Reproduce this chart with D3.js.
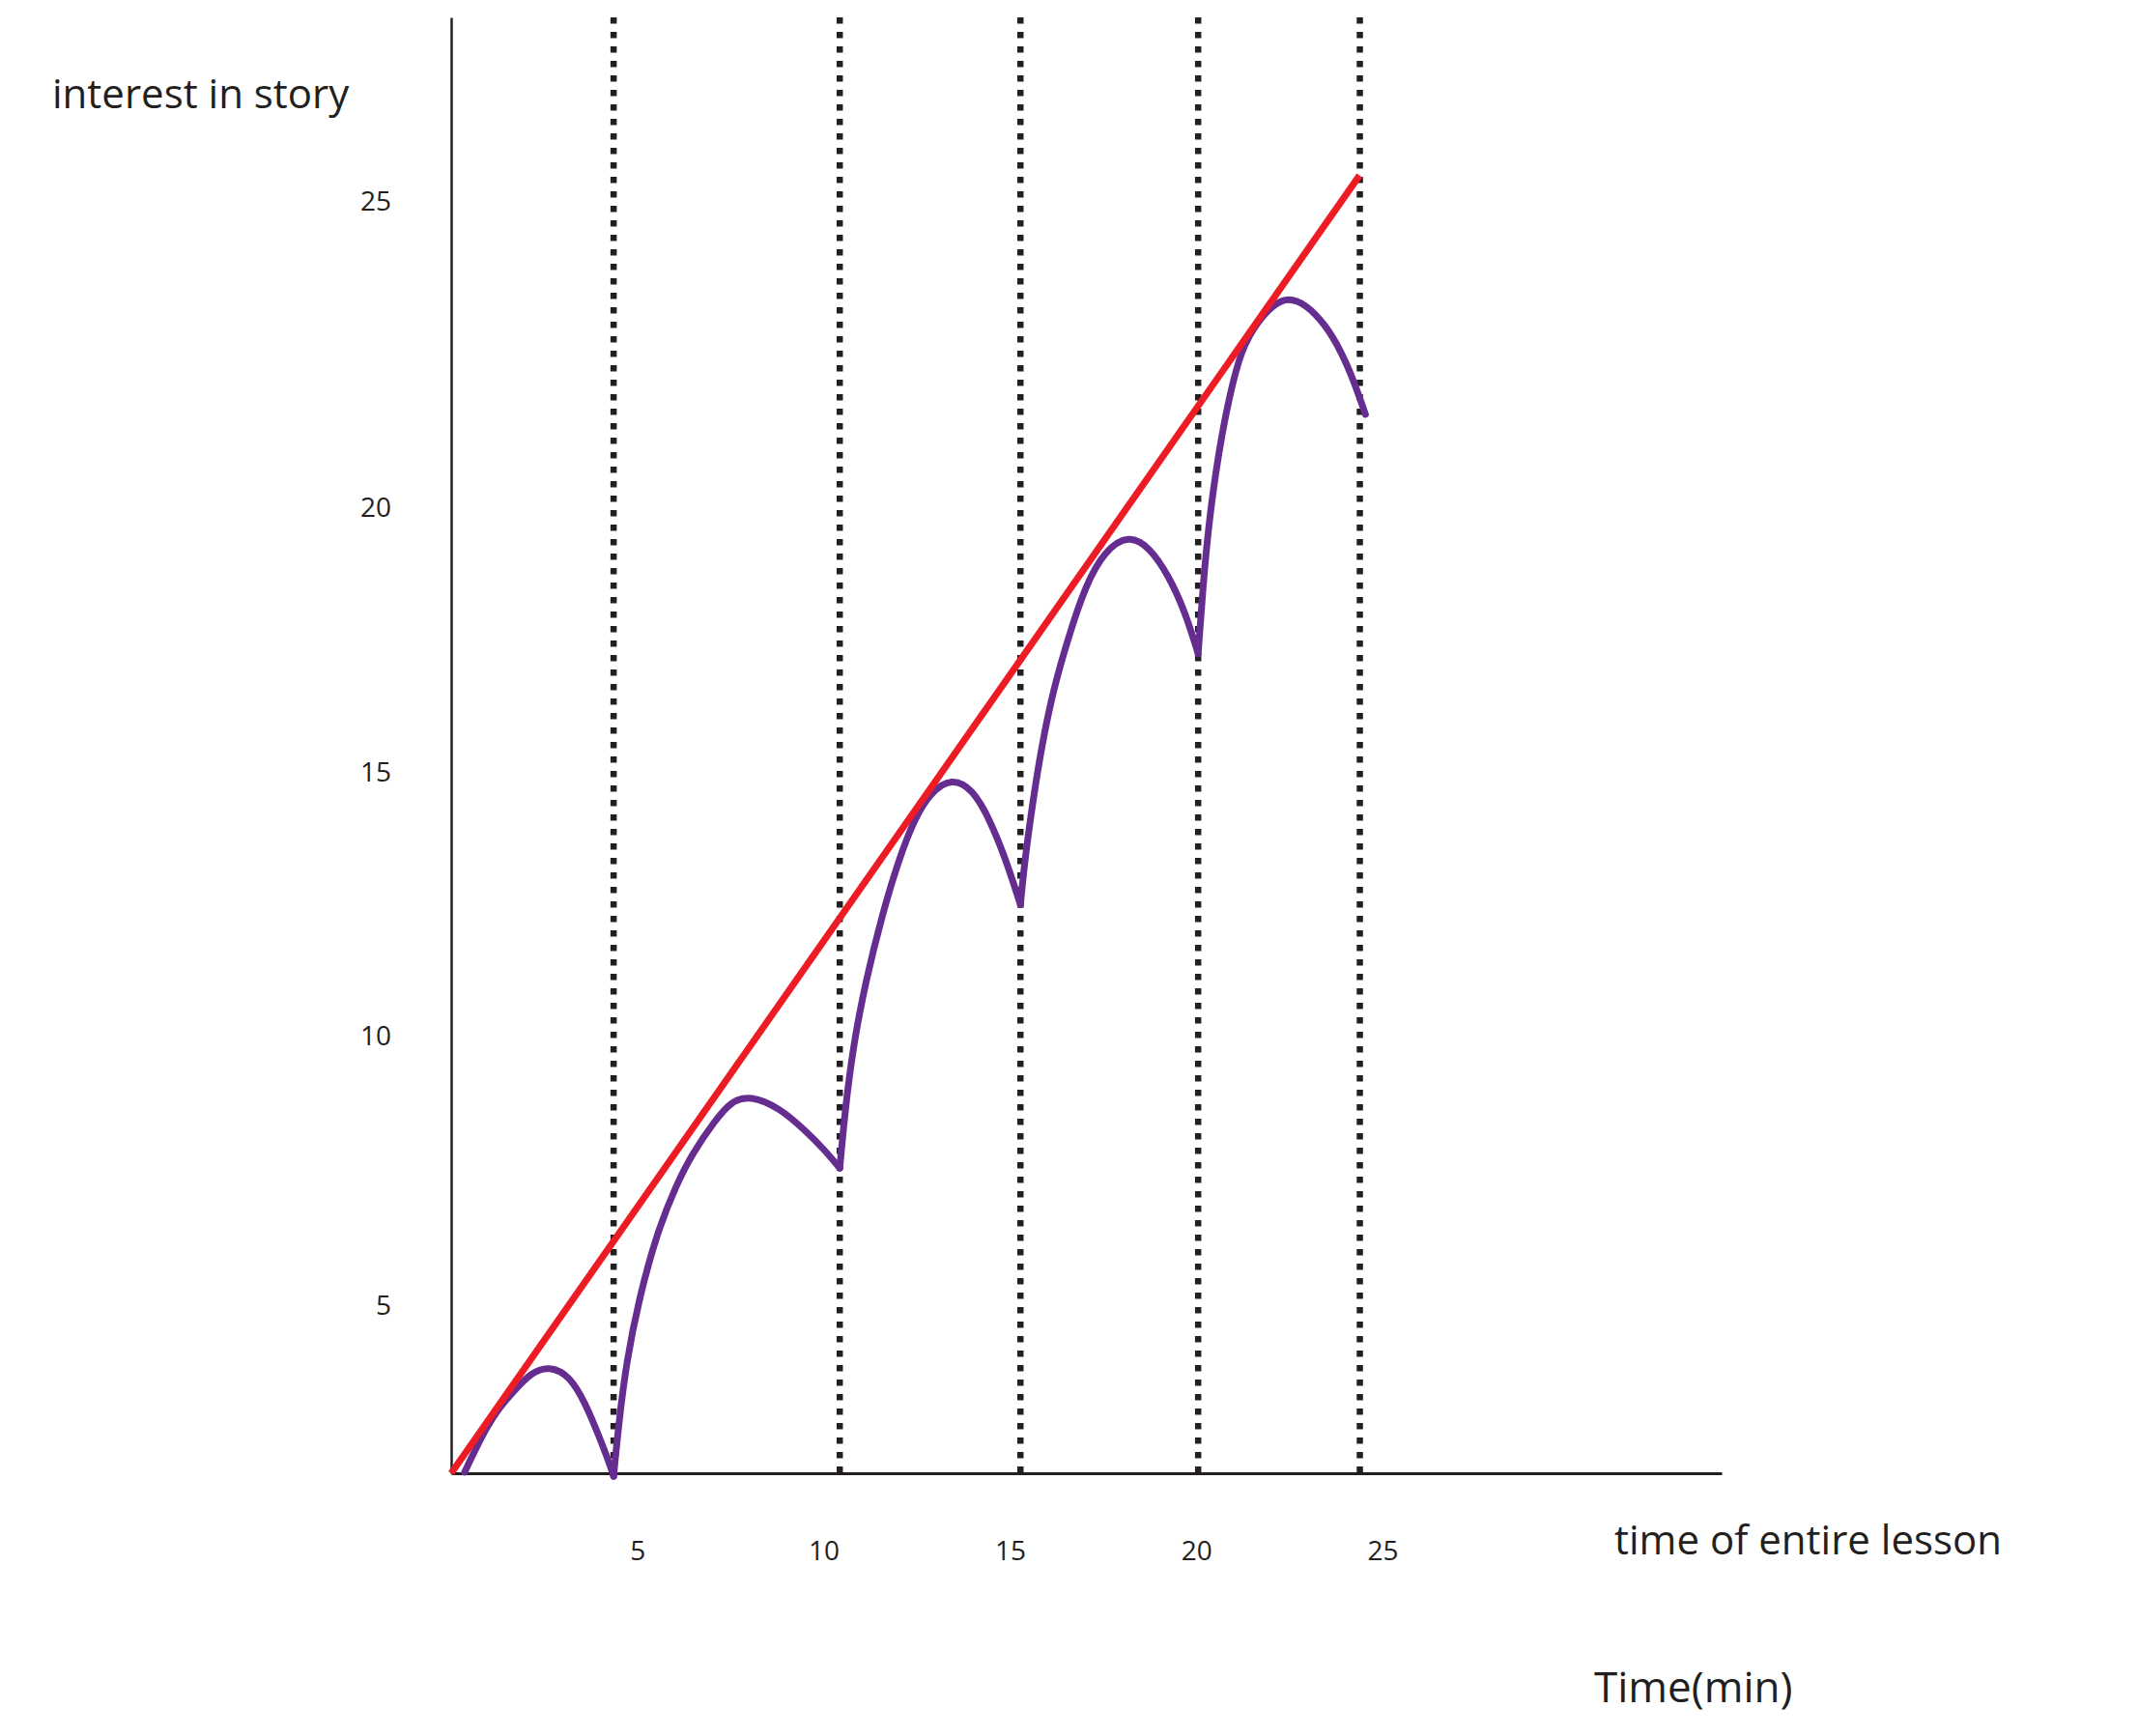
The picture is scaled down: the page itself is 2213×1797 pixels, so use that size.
<!DOCTYPE html>
<html>
<head>
<meta charset="utf-8">
<script src="https://cdn.jsdelivr.net/npm/d3@7"></script>
<style>
  body { margin: 0; background: #fff; }
  text { font-family: "Open Sans", sans-serif; fill: #231f20; }
</style>
</head>
<body>
<script>
(function() {
  var width = 2213, height = 1797;

  // values
  var timeTicks = [5, 10, 15, 20, 25];
  var interestTicks = [5, 10, 15, 20, 25];
  var sectionEnds = [4.36, 10.43, 15.28, 20.05, 24.39];
  var trend = [[0, 0], [24.38, 25.43]];

  var arc1 = [[0.36, 0.03], [0.86, 1.21], [1.29, 1.97], [1.71, 2.49], [2.15, 3.01], [2.62, 3.21],
              [3.19, 2.92], [3.62, 2.05], [3.97, 1.10], [4.23, 0.35], [4.36, -0.09]];
  var arc2 = [[4.36, -0.09], [4.49, 1.40], [4.70, 3.32], [5.05, 5.16], [5.52, 6.35], [6.04, 7.25],
              [6.48, 7.84], [7.08, 8.44], [7.51, 8.80], [8.03, 8.91], [8.81, 8.68], [9.50, 8.26],
              [10.02, 7.90], [10.43, 7.56]];
  var arc3 = [[10.43, 7.56], [10.58, 8.68], [10.80, 9.87], [11.14, 11.09], [11.57, 12.31], [12.01, 13.35],
              [12.44, 14.14], [12.87, 14.63], [13.43, 14.91], [14.00, 14.69], [14.43, 14.15], [14.86, 13.42],
              [15.28, 12.50]];
  var arc4 = [[15.28, 12.50], [15.38, 13.23], [15.55, 14.15], [15.81, 15.36], [16.16, 16.58], [16.59, 17.61],
              [17.02, 18.53], [17.54, 19.20], [18.19, 19.50], [18.75, 19.26], [19.27, 18.71], [19.70, 18.04],
              [20.05, 17.25]];
  var arc5 = [[20.05, 17.25], [20.18, 18.54], [20.35, 19.82], [20.61, 20.95], [20.87, 21.78], [21.21, 22.61],
              [21.65, 23.05], [22.08, 23.33], [22.47, 23.44], [22.94, 23.33], [23.46, 23.00], [23.89, 22.56],
              [24.24, 22.06], [24.54, 21.53]];
  var arcs = [arc1, arc2, arc3, arc4, arc5];

  var svg = d3.select("body").append("svg").attr("width", width).attr("height", height);

  // hand drawn axis: x is even, y labels are spaced unevenly
  var x = d3.scaleLinear().domain([0, 34.1]).range([467, 1782]);
  var y = d3.scaleLinear().domain([0, 5, 10, 15, 20, 25, 28]).range([1525, 1352, 1073, 800, 526, 209, 18]);

  var xAxis = svg.append("g").attr("transform", "translate(0," + y(0) + ")")
    .call(d3.axisBottom(x).tickValues(timeTicks).tickSize(0).tickPadding(70));
  xAxis.select(".domain").attr("stroke", "#231f20").attr("stroke-width", 2.8);
  xAxis.selectAll("text").style("font-size", "28px").style("font-family", "Open Sans").attr("fill", "#231f20");

  var yAxis = svg.append("g").attr("transform", "translate(" + x(0) + ",0)")
    .call(d3.axisLeft(y).tickValues(interestTicks).tickSize(0).tickPadding(62));
  yAxis.select(".domain").attr("stroke", "#231f20").attr("stroke-width", 2.5);
  yAxis.selectAll("text").style("font-size", "28px").style("font-family", "Open Sans").attr("fill", "#231f20");

  svg.selectAll("line.section").data(sectionEnds).enter().append("line")
    .attr("class", "section")
    .attr("x1", function(d) { return x(d); })
    .attr("x2", function(d) { return x(d); })
    .attr("y1", y(28))
    .attr("y2", y(0) + 8)
    .attr("stroke", "#231f20")
    .attr("stroke-width", 6.5)
    .attr("stroke-dasharray", "6.5,8.5");

  var line = d3.line()
    .x(function(d) { return x(d[0]); })
    .y(function(d) { return y(d[1]); })
    .curve(d3.curveBasis);

  svg.selectAll("path.arc").data(arcs).enter().append("path")
    .attr("class", "arc")
    .attr("d", line)
    .attr("fill", "none")
    .attr("stroke", "#662d91")
    .attr("stroke-width", 7)
    .attr("stroke-linecap", "round");

  svg.append("path")
    .datum(trend)
    .attr("d", d3.line().x(function(d) { return x(d[0]); }).y(function(d) { return y(d[1]); }))
    .attr("fill", "none")
    .attr("stroke", "#ed1c24")
    .attr("stroke-width", 7);

  svg.append("text").attr("x", 54).attr("y", 112).style("font-size", "42px").text("interest in story");
  svg.append("text").attr("x", 1671).attr("y", 1609).style("font-size", "42px").text("time of entire lesson");
  svg.append("text").attr("x", 1650).attr("y", 1762).style("font-size", "44px").text("Time(min)");
}).call(this);
</script>
</body>
</html>
